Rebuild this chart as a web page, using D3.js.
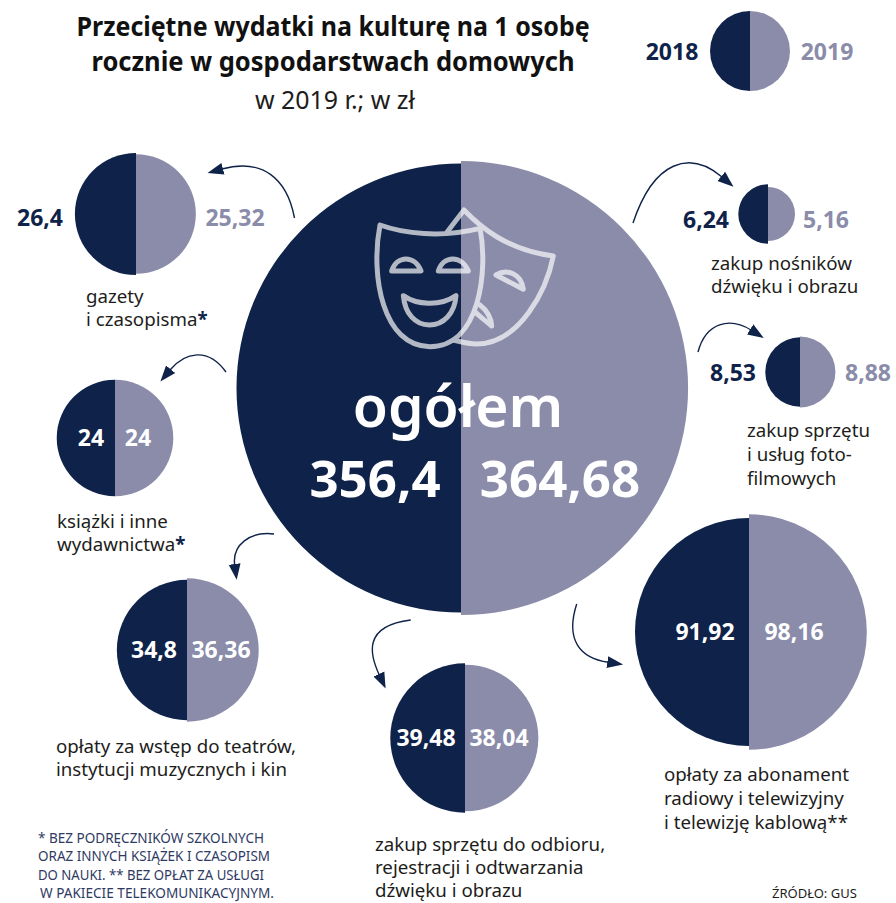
<!DOCTYPE html>
<html lang="pl">
<head>
<meta charset="utf-8">
<script src="https://cdn.jsdelivr.net/npm/d3@7"></script>
<style>
  html, body { margin: 0; background: #fff; }
  svg { display: block; }
  text { font-family: "Noto Sans", "Open Sans", sans-serif; }
</style>
</head>
<body>
<div id="chart"></div>
<script>
const categories = ['ogółem', 'gazety', 'książki', 'teatry', 'odbiór', 'abonament', 'nośniki', 'foto'];
const values2018 = [356.4, 26.4, 24, 34.8, 39.48, 91.92, 6.24, 8.53];
const values2019 = [364.68, 25.32, 24, 36.36, 38.04, 98.16, 5.16, 8.88];
const labels2018 = ['356,4', '26,4', '24', '34,8', '39,48', '91,92', '6,24', '8,53'];
const labels2019 = ['364,68', '25,32', '24', '36,36', '38,04', '98,16', '5,16', '8,88'];
const captions = [
    [],
    ['gazety', 'i czasopisma*'],
    ['książki i inne', 'wydawnictwa*'],
    ['opłaty za wstęp do teatrów,', 'instytucji muzycznych i kin'],
    ['zakup sprzętu do odbioru,', 'rejestracji i odtwarzania', 'dźwięku i obrazu'],
    ['opłaty za abonament', 'radiowy i telewizyjny', 'i telewizję kablową**'],
    ['zakup nośników', 'dźwięku i obrazu'],
    ['zakup sprzętu', 'i usług foto-', 'filmowych']
];
const titleLines = ['Przeciętne wydatki na kulturę na 1 osobę', 'rocznie w gospodarstwach domowych'];
const subtitle = 'w 2019 r.; w zł';
const legendYears = ['2018', '2019'];
const footnote = [
    '* BEZ PODRĘCZNIKÓW SZKOLNYCH',
    'ORAZ INNYCH KSIĄŻEK I CZASOPISM',
    'DO NAUKI. ** BEZ OPŁAT ZA USŁUGI',
    ' W PAKIECIE TELEKOMUNIKACYJNYM.'
];
const source = 'ŹRÓDŁO: GUS';

const navy = '#0f2249';
const grey = '#8a8caa';

// where each bubble sits on the page
const layout = [
    { cx: 461, cy: 388 },
    { cx: 136, cy: 214, lx: 86, ly: 302.5, dy: 23, x18: 40, x19: 235, vy: 226 },
    { cx: 115, cy: 438, lx: 57, ly: 528, dy: 23, x18: 91, x19: 138, vy: 446 },
    { cx: 187, cy: 650, lx: 56, ly: 752.5, dy: 23, x18: 154, x19: 221, vy: 658 },
    { cx: 465, cy: 738, lx: 375, ly: 851, dy: 23, x18: 426, x19: 499, vy: 746 },
    { cx: 749, cy: 632, lx: 664, ly: 781, dy: 24, x18: 705, x19: 794, vy: 640 },
    { cx: 768, cy: 214, lx: 711, ly: 270, dy: 23, x18: 706, x19: 826, vy: 228 },
    { cx: 800, cy: 372, lx: 747, ly: 437, dy: 24, x18: 733, x19: 868, vy: 381 }
];

const arrows = [
    'M294.5,218 C287,178 262,158 222,169',
    'M226,372 C208,347 185,352 170,370',
    'M274,534 C250,531 232,545 234.7,565',
    'M410.7,620 C362,626 370,655 379.3,675',
    'M576.7,604 C565,640 580,658 608.3,662.3',
    'M633,223 C654,160 690,150 722,177',
    'M698,352 C706,322 730,317 751,330'
];

const width = 896, height = 903;

const svg = d3.select('#chart').append('svg')
    .attr('width', width)
    .attr('height', height);

const radius = d3.scaleSqrt().domain([0, 356.4]).range([0, 224.5]);

svg.append('defs').append('marker')
    .attr('id', 'head')
    .attr('markerUnits', 'userSpaceOnUse')
    .attr('markerWidth', 18)
    .attr('markerHeight', 14)
    .attr('refX', 1)
    .attr('refY', 7)
    .attr('orient', 'auto')
    .append('path')
    .attr('d', 'M0,1 L16,7 L0,13 Z')
    .attr('fill', navy);

function halfCircle(g, r, side, fill) {
    const arc = d3.arc()
        .innerRadius(0)
        .outerRadius(r)
        .startAngle(side === 'left' ? -Math.PI : 0)
        .endAngle(side === 'left' ? 0 : Math.PI);
    g.append('path').attr('d', arc()).attr('fill', fill);
}

const bubbles = svg.selectAll('g.bubble')
    .data(categories)
    .enter()
    .append('g')
    .attr('class', 'bubble')
    .attr('transform', (d, i) => `translate(${layout[i].cx},${layout[i].cy})`)
    .each(function(d, i) {
        const g = d3.select(this);
        halfCircle(g, radius(values2018[i]), 'left', navy);
        halfCircle(g, radius(values2019[i]), 'right', grey);
    });

// arrows from the big circle
svg.selectAll('path.arrow')
    .data(arrows)
    .enter()
    .append('path')
    .attr('class', 'arrow')
    .attr('d', d => d)
    .attr('fill', 'none')
    .attr('stroke', navy)
    .attr('stroke-width', 1.4)
    .attr('marker-end', 'url(#head)');

// value labels: white inside the circle, coloured outside
function isInside(i) {
    return Math.abs(layout[i].x18 - layout[i].cx) < radius(values2018[i]);
}
categories.forEach((c, i) => {
    if (i === 0) return;
    const inside = isInside(i);
    svg.append('text')
        .attr('x', layout[i].x18).attr('y', layout[i].vy)
        .attr('text-anchor', 'middle')
        .attr('font-size', 23).attr('font-weight', 700)
        .attr('fill', inside ? '#fff' : navy)
        .text(labels2018[i]);
    svg.append('text')
        .attr('x', layout[i].x19).attr('y', layout[i].vy)
        .attr('text-anchor', 'middle')
        .attr('font-size', 23).attr('font-weight', 700)
        .attr('fill', inside ? '#fff' : grey)
        .text(labels2019[i]);
});

// captions, the asterisks go bold and navy in two of them
categories.forEach((c, i) => {
    captions[i].forEach((line, j) => {
        const t = svg.append('text')
            .attr('x', layout[i].lx)
            .attr('y', layout[i].ly + j * layout[i].dy)
            .attr('font-size', 18.7)
            .attr('fill', '#1d1d1b');
        const m = line.match(/^(.*[^*])(\*)$/);
        if (m) {
            t.append('tspan').text(m[1]);
            t.append('tspan').attr('font-weight', 700).attr('fill', navy).text(m[2]);
        } else {
            t.text(line);
        }
    });
});

// big circle text
svg.append('text')
    .attr('x', 458).attr('y', 427)
    .attr('text-anchor', 'middle')
    .attr('font-size', 57).attr('font-weight', 600)
    .attr('fill', '#fff')
    .text(categories[0]);
svg.append('text')
    .attr('x', 375).attr('y', 497)
    .attr('text-anchor', 'middle')
    .attr('font-size', 51).attr('font-weight', 700)
    .attr('fill', '#fff')
    .text(labels2018[0]);
svg.append('text')
    .attr('x', 560).attr('y', 497)
    .attr('text-anchor', 'middle')
    .attr('font-size', 51).attr('font-weight', 700)
    .attr('fill', '#fff')
    .text(labels2019[0]);

// theatre masks, traced in crop coordinates
const masks = svg.append('g')
    .attr('transform', 'translate(340,190) scale(0.3333)')
    .attr('fill', 'none')
    .attr('stroke', '#fff')
    .attr('stroke-width', 15)
    .attr('stroke-linejoin', 'round')
    .attr('stroke-linecap', 'round')
    .attr('opacity', 0.68);
[
    'M120,105 C190,130 300,145 420,115 C445,240 420,470 270,470 C130,470 90,260 120,105 Z',
    'M155,243 C170,195 225,195 243,243 Z',
    'M295,243 C310,195 365,195 385,243 Z',
    'M190,317 C230,345 300,350 348,317 C345,370 310,405 268,405 C225,405 195,370 190,317 Z',
    'M322,125 L372,60 C420,110 500,180 640,198 C620,300 540,460 410,462 C385,462 360,455 340,450',
    'M468,255 C500,235 545,250 550,298 Z',
    'M420,345 C440,360 455,385 455,408 C440,395 420,380 405,365'
].forEach(d => masks.append('path').attr('d', d));

// title
titleLines.forEach((line, i) => {
    svg.append('text')
        .attr('x', 333).attr('y', 36 + i * 35)
        .attr('text-anchor', 'middle')
        .attr('font-size', 27).attr('font-weight', 700)
        .attr('fill', '#111')
        .attr('textLength', i === 0 ? 513 : 483)
        .attr('lengthAdjust', 'spacingAndGlyphs')
        .text(line);
});
svg.append('text')
    .attr('x', 335).attr('y', 109)
    .attr('text-anchor', 'middle')
    .attr('font-size', 25)
    .attr('fill', '#1d1d1b')
    .attr('textLength', 160)
    .attr('lengthAdjust', 'spacingAndGlyphs')
    .text(subtitle);

// legend
const legend = svg.append('g').attr('transform', 'translate(750,51)');
halfCircle(legend, 40, 'left', navy);
halfCircle(legend, 40, 'right', grey);
svg.append('text')
    .attr('x', 672).attr('y', 60)
    .attr('text-anchor', 'middle')
    .attr('font-size', 23).attr('font-weight', 700)
    .attr('fill', navy)
    .text(legendYears[0]);
svg.append('text')
    .attr('x', 827).attr('y', 60)
    .attr('text-anchor', 'middle')
    .attr('font-size', 23).attr('font-weight', 700)
    .attr('fill', grey)
    .text(legendYears[1]);

// footnote and source
footnote.forEach((line, i) => {
    svg.append('text')
        .attr('x', i === 3 ? 40 : 38).attr('y', 843 + i * 18.3)
        .attr('font-size', 13.5)
        .attr('fill', '#2f3a63')
        .attr('textLength', [226, 232, 226, 234][i])
        .attr('lengthAdjust', 'spacingAndGlyphs')
        .text(line.trim());
});
svg.append('text')
    .attr('x', 772).attr('y', 898)
    .attr('font-size', 13)
    .attr('fill', '#1d1d1b')
    .text(source);
</script>
</body>
</html>
